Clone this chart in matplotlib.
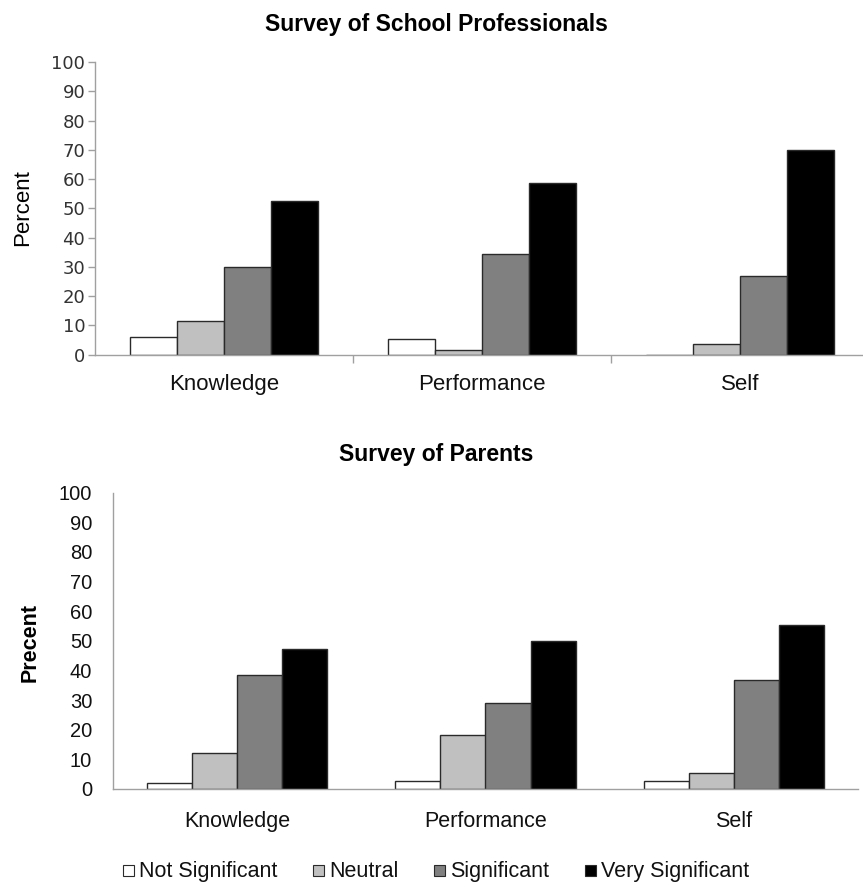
import numpy as np
import matplotlib
matplotlib.use("Agg")
import matplotlib.pyplot as plt
from matplotlib.patches import Rectangle

# Survey results (percent of respondents)
categories = ["Knowledge", "Performance", "Self"]
ratings = ["Not Significant", "Neutral", "Significant", "Very Significant"]
rating_colors = ["#ffffff", "#c0c0c0", "#808080", "#000000"]

professionals = {
    "Not Significant": [6.0, 5.4, 0.0],
    "Neutral": [11.6, 1.6, 3.6],
    "Significant": [30.0, 34.3, 26.8],
    "Very Significant": [52.4, 58.8, 70.1],
}
parents = {
    "Not Significant": [1.9, 2.6, 2.6],
    "Neutral": [12.1, 18.2, 5.3],
    "Significant": [38.5, 29.0, 36.9],
    "Very Significant": [47.3, 50.0, 55.4],
}

plt.rcParams["font.family"] = ["Liberation Sans", "DejaVu Sans"]

W, H = 863, 884
fig = plt.figure(figsize=(W / 100, H / 100), dpi=100)

ax1 = fig.add_axes([95 / W, 1 - 354.7 / H, 774 / W, 292.7 / H])
ax2 = fig.add_axes([113 / W, 1 - 789 / H, 745 / W, 296.3 / H])

bar_w = 1 / 5.5   # Excel-style gap width of 150%
x = np.arange(len(categories))


def draw_group(ax, data):
    for i, r in enumerate(ratings):
        offs = (i - 1.5) * bar_w
        ax.bar(x + offs, data[r], width=bar_w, color=rating_colors[i],
               edgecolor="#2a2a2a", linewidth=1.0, zorder=3)
    ax.set_xlim(-0.5, len(categories) - 0.5)
    ax.set_ylim(0, 100)
    ax.set_yticks(np.arange(0, 101, 10))
    ax.set_xticks(x)
    ax.set_xticklabels(categories)
    for s in ["top", "right"]:
        ax.spines[s].set_visible(False)
    for s in ["left", "bottom"]:
        ax.spines[s].set_color("#a0a0a0")
        ax.spines[s].set_linewidth(1.0)
        ax.spines[s].set_zorder(4)


draw_group(ax1, professionals)
draw_group(ax2, parents)

# top panel: Verdana-like grey tick labels, small outward ticks
ax1.tick_params(axis="y", length=5, width=1, color="#a0a0a0", pad=2,
                labelsize=13, labelcolor="#333333")
for lab in ax1.get_yticklabels():
    lab.set_family("DejaVu Sans")
ax1.tick_params(axis="x", length=0, pad=14, labelsize=16, labelcolor="#111111")
ax1.set_xticks([0.5, 1.5], minor=True)
ax1.tick_params(axis="x", which="minor", length=6, width=1, color="#a0a0a0")

# bottom panel: no tick marks
ax2.tick_params(axis="y", length=0, pad=15, labelsize=14.5, labelcolor="#111111")
ax2.tick_params(axis="x", length=0, pad=16, labelsize=15.5, labelcolor="#111111")

fig.text(436 / W, 1 - 31 / H, "Survey of School Professionals", ha="center",
         va="baseline", fontsize=16.5, fontweight="bold")
fig.text(436 / W, 1 - 461 / H, "Survey of Parents", ha="center",
         va="baseline", fontsize=16.5, fontweight="bold")

fig.text(23 / W, 1 - 208 / H, "Percent", rotation=90, ha="center",
         va="center", fontsize=16)
fig.text(30 / W, 1 - 642 / H, "Precent", rotation=90, ha="center",
         va="center", fontsize=15.5, fontweight="bold")

# legend along the bottom: small boxed swatch followed by its label
legend_x = [123, 313, 434, 585]
for lx, label, col in zip(legend_x, ratings, rating_colors):
    fig.patches.append(Rectangle((lx / W, 1 - 876 / H), 11 / W, 11 / H,
                                 transform=fig.transFigure, facecolor=col,
                                 edgecolor="#2a2a2a", linewidth=0.8))
    fig.text((lx + 16) / W, 1 - 877 / H, label, ha="left", va="baseline",
             fontsize=15.5, color="#111111")

fig.savefig("out.png", dpi=100)
